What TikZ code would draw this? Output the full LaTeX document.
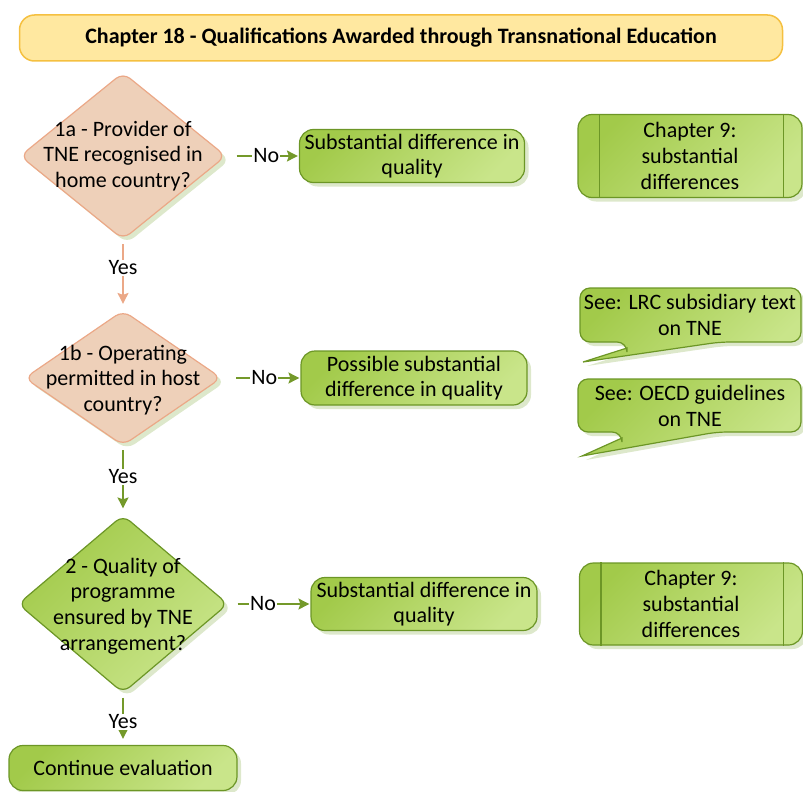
\documentclass[tikz,border=0pt]{standalone}
\usepackage{fontspec}
\setmainfont{Carlito}
\usetikzlibrary{shapes.geometric,shadows,arrows.meta}
\definecolor{titlefill}{HTML}{FFE8A0}
\definecolor{titleline}{HTML}{F5C040}
\definecolor{peachfill}{HTML}{EED0B9}
\definecolor{peachline}{HTML}{EBA887}
\definecolor{greentop}{HTML}{A2CA4A}
\definecolor{greenbot}{HTML}{C9E58A}
\definecolor{greenline}{HTML}{6C9626}
\definecolor{arrowgreen}{HTML}{74992A}
\definecolor{shade}{HTML}{DDE8CB}
\begin{document}
\begin{tikzpicture}[x=1pt,y=-1pt,
  font=\fontsize{22}{25.6}\selectfont,
  shadowed/.style={drop shadow={shadow xshift=4pt,shadow yshift=-4pt,fill=shade,opacity=1}},
  greenbox/.style={rectangle,rounded corners=14pt,draw=greenline,line width=1.2pt,top color=greentop,bottom color=greenbot,shading angle=45,shadowed,align=center,inner sep=0pt},
  seebubble/.style={draw=greenline,line width=1.2pt,top color=greentop,bottom color=greenbot,shading angle=45,shadowed},
  dia/.style={diamond,rounded corners=9pt,line width=1.2pt,shadowed,inner sep=0pt},
  qtext/.style={align=center,inner sep=0pt},
  arr/.style={draw=arrowgreen,line width=1.6pt,shorten <=4pt,shorten >=6pt,-{Stealth[length=11pt,width=11pt,inset=2pt]}},
  lbl/.style={fill=white,inner sep=1pt}]
\useasboundingbox (0,0) rectangle (803,792);
\node[rectangle,rounded corners=15pt,draw=titleline,line width=1.5pt,fill=titlefill,minimum width=763pt,minimum height=46pt,font=\fontsize{22}{24}\selectfont\bfseries] (title) at (401,38) {Chapter 18 - Qualifications Awarded through Transnational Education};
\node[dia,draw=peachline,fill=peachfill,minimum width=206pt,minimum height=167pt] (q1a) at (123,156) {};
\node[qtext] (t1a) at (q1a) {1a - Provider of\\TNE recognised in\\home country?};
\node[dia,draw=peachline,fill=peachfill,minimum width=197pt,minimum height=135pt] (q1b) at (123,378) {};
\node[qtext] (t1b) at (123,380) {1b - Operating\\permitted in host\\country?};
\node[dia,draw=greenline,top color=greentop,bottom color=greenbot,shading angle=45,minimum width=210pt,minimum height=178pt] (q2) at (123,604) {};
\node[qtext] (t2) at (123,606) {2 - Quality of\\programme\\ensured by TNE\\arrangement?};
\node[greenbox,minimum width=225pt,minimum height=53pt] (sd1) at (412,156) {Substantial difference in\\quality};
\node[greenbox,minimum width=226pt,minimum height=54pt] (psd) at (414,378) {Possible substantial\\difference in quality};
\node[greenbox,minimum width=226pt,minimum height=53pt] (sd2) at (424,604) {Substantial difference in\\quality};
\node[greenbox,minimum width=228pt,minimum height=45pt] (cont) at (123,768) {Continue evaluation};
\node[greenbox,minimum width=224pt,minimum height=83pt] (ch9a) at (690,156) {Chapter 9:\\substantial\\differences};
\draw[greenline,line width=1.2pt] ([xshift=22pt]ch9a.north west) -- ([xshift=22pt]ch9a.south west);
\draw[greenline,line width=1.2pt] ([xshift=-19pt]ch9a.north east) -- ([xshift=-19pt]ch9a.south east);
\node[greenbox,minimum width=223pt,minimum height=82pt] (ch9b) at (691,604) {Chapter 9:\\substantial\\differences};
\draw[greenline,line width=1.2pt] ([xshift=22pt]ch9b.north west) -- ([xshift=22pt]ch9b.south west);
\draw[greenline,line width=1.2pt] ([xshift=-20pt]ch9b.north east) -- ([xshift=-20pt]ch9b.south east);
\path[seebubble] (720,342) -- (583,362) -- (627,348) [rounded corners=10pt] -- (627,342) -- (580,342) -- (580,288) -- (801,288) -- (801,342) -- cycle;
\node[qtext] (lrc) at (690,315) {See: LRC subsidiary text\\on TNE};
\path[seebubble] (717,432) -- (582,456) -- (622,438) [rounded corners=10pt] -- (622,432) -- (578,432) -- (578,379) -- (801,379) -- (801,432) -- cycle;
\node[qtext] (oecd) at (690,406) {See: OECD guidelines\\on TNE};
\draw[arr,shorten <=10pt,shorten >=1pt] (q1a.east) -- node[lbl,pos=0.55]{No} (sd1.west);
\draw[arr,shorten <=14pt,shorten >=1pt] (q1b.east) -- node[lbl,pos=0.54]{No} (psd.west);
\draw[arr,shorten <=9pt,shorten >=1pt] (q2.east) -- node[lbl,pos=0.42]{No} (sd2.west);
\draw[arr,draw=peachline] (q1a.south) -- node[lbl,pos=0.4]{Yes} (q1b.north);
\draw[arr] (q1b.south) -- node[lbl,pos=0.45]{Yes} (q2.north);
\draw[arr] (q2.south) -- node[lbl,pos=0.55]{Yes} (cont.north);
\end{tikzpicture}
\end{document}
